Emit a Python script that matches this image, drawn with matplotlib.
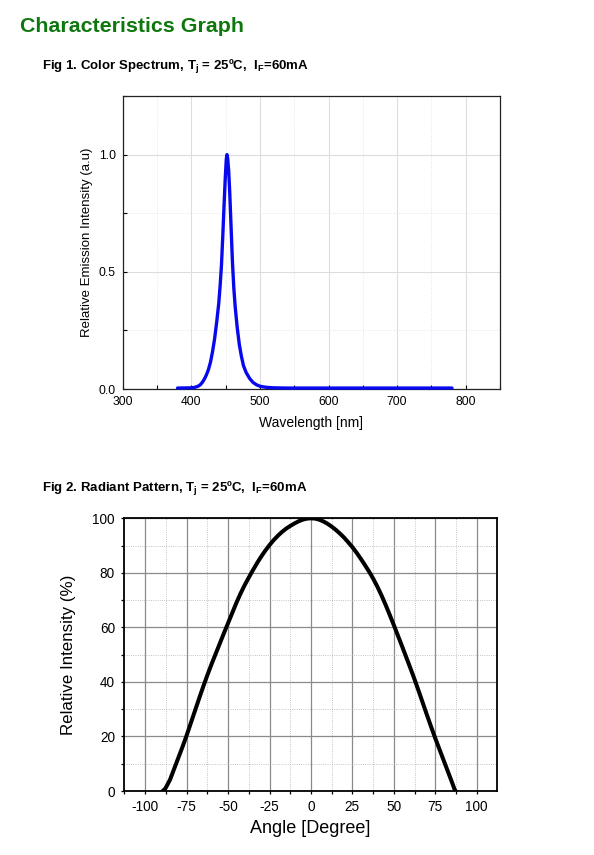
import matplotlib
matplotlib.use("Agg")
import matplotlib.pyplot as plt
from matplotlib.ticker import MultipleLocator

plt.rcParams['font.family'] = ['Liberation Sans', 'DejaVu Sans']
plt.rcParams['axes.unicode_minus'] = False

# Fig 1 - color spectrum
wavelength = [380, 400, 405, 410, 413, 416, 419, 422, 425, 428, 431, 434, 437, 440, 442, 444,
              446, 448, 449.5, 451, 452, 453, 454.5, 456, 458, 460, 462, 464, 467, 470, 473,
              476, 480, 485, 490, 495, 500, 505, 510, 520, 540, 600, 700, 780]
intensity = [0.004, 0.005, 0.007, 0.012, 0.018, 0.028, 0.042, 0.06, 0.083, 0.115, 0.16, 0.215,
             0.285, 0.365, 0.44, 0.53, 0.66, 0.8, 0.9, 0.98, 1.0, 0.985, 0.93, 0.84, 0.69, 0.54,
             0.43, 0.35, 0.26, 0.19, 0.14, 0.1, 0.07, 0.045, 0.028, 0.018, 0.012, 0.009, 0.007,
             0.005, 0.004, 0.004, 0.004, 0.004]

# Fig 2 - radiant pattern
angle = [-89.5, -88, -87.5, -85, -82.5, -80, -77.5, -75, -72.5, -70, -67.5, -65, -62.5, -60,
         -57.5, -55, -52.5, -50, -47.5, -45, -42.5, -40, -37.5, -35, -32.5, -30, -27.5, -25,
         -22.5, -20, -17.5, -15, -12.5, -10, -7.5, -5, -2.5, 0,
         2.5, 5, 7.5, 10, 12.5, 15, 17.5, 20, 22.5, 25, 27.5, 30, 32.5, 35, 37.5, 40, 42.5,
         45, 47.5, 50, 52.5, 55, 57.5, 60, 62.5, 65, 67.5, 70, 72.5, 75, 77.5, 80, 82.5, 85,
         86.5, 87.2]
rel_int = [0, 0.8, 1.3, 4.2, 8.2, 12.2, 16.2, 20.4, 24.9, 29.4, 33.9, 38.3, 42.5, 46.5,
           50.3, 54.1, 57.9, 61.6, 65.3, 69.0, 72.4, 75.5, 78.3, 81.0, 83.6, 86.0, 88.2, 90.2,
           92.0, 93.6, 95.0, 96.2, 97.2, 98.1, 98.9, 99.5, 99.88, 100,
           99.9, 99.5, 98.85, 98.0, 96.95, 95.75, 94.4, 92.9, 91.2, 89.4, 87.4, 85.2, 82.9,
           80.5, 77.9, 75.0, 71.8, 68.3, 64.6, 60.8, 56.9, 53.0, 49.0, 45.0, 40.9, 36.6,
           32.2, 27.8, 23.5, 19.3, 15.3, 11.3, 7.3, 3.3, 0.8, 0]

fig = plt.figure(figsize=(5.94, 8.55), dpi=100)

fig.text(20 / 594, 1 - 32.5 / 855, "Characteristics Graph", color="#0e780e",
         fontsize=15.4, fontweight="bold")
fig.text(42.5 / 594, 1 - 69.5 / 855,
         r"Fig 1. Color Spectrum, T$_\mathregular{j}$ = 25ºC,  I$_\mathregular{F}$=60mA",
         fontsize=9.5, fontweight="bold")
fig.text(42 / 594, 1 - 492 / 855,
         r"Fig 2. Radiant Pattern, T$_\mathregular{j}$ = 25ºC,  I$_\mathregular{F}$=60mA",
         fontsize=9.5, fontweight="bold")

# ---- chart 1
ax1 = fig.add_axes([122.7 / 594, 1 - 389 / 855, 377.3 / 594, 293 / 855])
ax1.plot(wavelength, intensity, color="#0808ee", lw=2.4, solid_capstyle="round",
         solid_joinstyle="round", zorder=3, clip_on=False)
ax1.set_xlim(300, 850)
ax1.set_ylim(0, 1.25)
ax1.xaxis.set_major_locator(MultipleLocator(100))
ax1.xaxis.set_minor_locator(MultipleLocator(50))
ax1.yaxis.set_major_locator(MultipleLocator(0.5))
ax1.yaxis.set_minor_locator(MultipleLocator(0.25))
ax1.set_yticks([0.0, 0.5, 1.0])
ax1.set_yticklabels(["0.0", "0.5", "1.0"])
ax1.grid(True, which="major", color="#dddddd", lw=0.8, ls="-")
ax1.grid(True, which="minor", color="#e4e4e4", lw=0.7, ls=":")
ax1.tick_params(which="both", direction="in", length=3, width=0.8, labelsize=8.7,
                top=False, right=False, pad=5)
for s in ax1.spines.values():
    s.set_linewidth(0.9)
    s.set_color("#222222")
ax1.set_xlabel("Wavelength [nm]", fontsize=10, labelpad=6)
ax1.set_ylabel("Relative Emission Intensity (a.u)", fontsize=9.5, labelpad=4)
ax1.set_axisbelow(True)

# ---- chart 2
ax2 = fig.add_axes([124 / 594, 1 - 791 / 855, 373.3 / 594, 272.7 / 855])
ax2.plot(angle, rel_int, color="black", lw=2.9, solid_capstyle="round",
         solid_joinstyle="round", zorder=3)
ax2.set_xlim(-112.8, 112.4)
ax2.set_ylim(0, 100)
ax2.xaxis.set_major_locator(MultipleLocator(25))
ax2.xaxis.set_minor_locator(MultipleLocator(12.5))
ax2.yaxis.set_major_locator(MultipleLocator(20))
ax2.yaxis.set_minor_locator(MultipleLocator(10))
ax2.grid(True, which="major", color="#8a8a8a", lw=0.9, ls="-")
ax2.grid(True, which="minor", color="#b0b0b0", lw=0.6, ls=":")
ax2.tick_params(which="both", direction="out", length=2.5, width=0.9, labelsize=9.8,
                top=False, right=False, pad=4)
for s in ax2.spines.values():
    s.set_linewidth(1.3)
ax2.set_xlabel("Angle [Degree]", fontsize=13, labelpad=4)
ax2.set_ylabel("Relative Intensity (%)", fontsize=12.2, labelpad=12)
ax2.set_axisbelow(True)

fig.savefig("out.png", dpi=100)
